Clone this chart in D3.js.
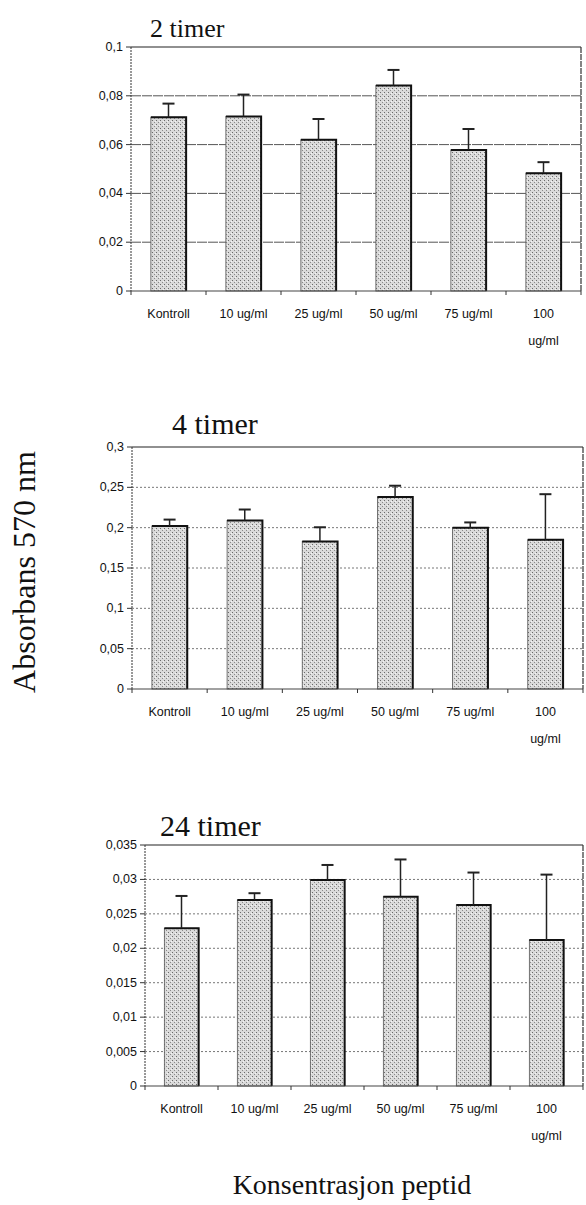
<!DOCTYPE html>
<html>
<head>
<meta charset="utf-8">
<script src="https://d3js.org/d3.v7.min.js"></script>
<style>
  body { margin: 0; background: #fff; }
  svg { display: block; }
  .tick-label { font-family: "Liberation Sans Narrow", "Liberation Sans", Arial, sans-serif; font-size: 12.5px; fill: #111; }
  .serif { font-family: "Liberation Serif", "Times New Roman", serif; fill: #111; }
</style>
</head>
<body>
<script>
// categories (x axis)
var categories = ["Kontroll", "10 ug/ml", "25 ug/ml", "50 ug/ml", "75 ug/ml", "100 ug/ml"];

// 2 timer
var mean2 = [0.0712, 0.0715, 0.0620, 0.0842, 0.0578, 0.0483];
var err2  = [0.0056, 0.0090, 0.0085, 0.0064, 0.0086, 0.0045];
var ticks2 = [0, 0.02, 0.04, 0.06, 0.08, 0.1];

// 4 timer
var mean4 = [0.202, 0.209, 0.183, 0.238, 0.200, 0.185];
var err4  = [0.008, 0.0135, 0.0175, 0.014, 0.0065, 0.0565];
var ticks4 = [0, 0.05, 0.1, 0.15, 0.2, 0.25, 0.3];

// 24 timer
var mean24 = [0.0229, 0.0270, 0.0299, 0.0275, 0.0263, 0.0212];
var err24  = [0.0047, 0.0010, 0.0022, 0.0054, 0.0047, 0.0095];
var ticks24 = [0, 0.005, 0.01, 0.015, 0.02, 0.025, 0.03, 0.035];

var w = 586, h = 1205;

var svg = d3.select("body").append("svg")
    .attr("width", w)
    .attr("height", h);

// stippled grey fill like the scanned bars
var defs = svg.append("defs");
var pat = defs.append("pattern")
    .attr("id", "stipple")
    .attr("width", 4).attr("height", 4)
    .attr("patternUnits", "userSpaceOnUse");
pat.append("rect").attr("width", 4).attr("height", 4).attr("fill", "#dadada");
pat.append("rect").attr("x", 0).attr("y", 0).attr("width", 1).attr("height", 1).attr("fill", "#6a6a6a");
pat.append("rect").attr("x", 2).attr("y", 2).attr("width", 1).attr("height", 1).attr("fill", "#8a8a8a");
pat.append("rect").attr("x", 3).attr("y", 1).attr("width", 1).attr("height", 1).attr("fill", "#f4f4f4");

var fmt = d3.formatLocale({decimal: ",", thousands: ".", grouping: [3], currency: ["", ""]}).format("~g");

function panel(cfg) {
    var g = svg.append("g");
    var x0 = cfg.left, x1 = cfg.right, y0 = cfg.top, y1 = cfg.bottom;

    var y = d3.scaleLinear()
        .domain([0, cfg.ticks[cfg.ticks.length - 1]])
        .range([y1, y0]);

    var x = d3.scaleBand()
        .domain(categories)
        .range([x0, x1])
        .paddingInner(0.53)
        .paddingOuter(0.265);

    var slot = d3.scaleLinear().domain([0, categories.length]).range([x0, x1]);

    // gridlines
    g.selectAll(".grid")
        .data(cfg.ticks.slice(1, -1))
        .enter().append("line")
        .attr("x1", x0).attr("x2", x1)
        .attr("y1", function(d) { return y(d); })
        .attr("y2", function(d) { return y(d); })
        .attr("stroke", cfg.gridColor)
        .attr("stroke-width", 1)
        .attr("stroke-dasharray", cfg.gridDash);

    // frame
    g.append("line").attr("x1", x0).attr("x2", x1).attr("y1", y0).attr("y2", y0)
        .attr("stroke", "#222").attr("stroke-width", 1.2);
    g.append("line").attr("x1", x1).attr("x2", x1).attr("y1", y0).attr("y2", y1)
        .attr("stroke", "#333").attr("stroke-width", 1.2).attr("stroke-dasharray", "6,1");
    g.append("line").attr("x1", x0).attr("x2", x0).attr("y1", y0).attr("y2", y1)
        .attr("stroke", "#333").attr("stroke-width", 1).attr("stroke-dasharray", "2,1");

    // y ticks + labels
    g.selectAll(".yt")
        .data(cfg.ticks)
        .enter().append("line")
        .attr("x1", x0 - 5).attr("x2", x0)
        .attr("y1", function(d) { return y(d); })
        .attr("y2", function(d) { return y(d); })
        .attr("stroke", "#333");
    g.selectAll(".yl")
        .data(cfg.ticks)
        .enter().append("text")
        .attr("class", "tick-label")
        .attr("x", x0 - 8)
        .attr("y", function(d) { return y(d) + 4; })
        .attr("text-anchor", "end")
        .text(function(d) { return fmt(d); });

    // bars
    g.selectAll(".bar")
        .data(cfg.mean)
        .enter().append("rect")
        .attr("x", function(d, i) { return x(categories[i]); })
        .attr("y", function(d) { return y(d); })
        .attr("width", x.bandwidth())
        .attr("height", function(d) { return y1 - y(d); })
        .attr("fill", "url(#stipple)")
        .attr("stroke", "#555")
        .attr("stroke-width", 0.8);
    // dark right edge and top
    g.selectAll(".edge")
        .data(cfg.mean)
        .enter().append("path")
        .attr("d", function(d, i) {
            var bx = x(categories[i]), bw = x.bandwidth();
            return "M" + bx + "," + y(d) + "H" + (bx + bw) + "V" + y1;
        })
        .attr("fill", "none")
        .attr("stroke", "#111")
        .attr("stroke-width", 2);

    // x axis line + slot ticks
    g.append("line").attr("x1", x0).attr("x2", x1).attr("y1", y1).attr("y2", y1)
        .attr("stroke", "#444").attr("stroke-width", 1.2);
    g.selectAll(".xt")
        .data(d3.range(categories.length + 1))
        .enter().append("line")
        .attr("x1", function(d) { return slot(d); })
        .attr("x2", function(d) { return slot(d); })
        .attr("y1", y1).attr("y2", y1 + 4)
        .attr("stroke", "#333");

    // error bars
    var eb = g.selectAll(".err")
        .data(cfg.mean)
        .enter().append("g");
    eb.append("line")
        .attr("x1", function(d, i) { return x(categories[i]) + x.bandwidth() / 2; })
        .attr("x2", function(d, i) { return x(categories[i]) + x.bandwidth() / 2; })
        .attr("y1", function(d) { return y(d); })
        .attr("y2", function(d, i) { return y(d + cfg.err[i]); })
        .attr("stroke", "#222").attr("stroke-width", 1.5);
    eb.append("line")
        .attr("x1", function(d, i) { return x(categories[i]) + x.bandwidth() / 2 - 6; })
        .attr("x2", function(d, i) { return x(categories[i]) + x.bandwidth() / 2 + 6; })
        .attr("y1", function(d, i) { return y(d + cfg.err[i]); })
        .attr("y2", function(d, i) { return y(d + cfg.err[i]); })
        .attr("stroke", "#222").attr("stroke-width", 2);

    // category labels (last one wraps)
    g.selectAll(".xl")
        .data(categories)
        .enter().append("text")
        .attr("class", "tick-label")
        .attr("text-anchor", "middle")
        .attr("x", function(d) { return x(d) + x.bandwidth() / 2; })
        .attr("y", y1 + 27)
        .each(function(d) {
            var t = d3.select(this);
            if (d === "100 ug/ml") {
                t.append("tspan").attr("x", t.attr("x")).text("100");
                t.append("tspan").attr("x", t.attr("x")).attr("dy", 27).text("ug/ml");
            } else {
                t.text(d);
            }
        });

    // panel title
    g.append("text")
        .attr("class", "serif")
        .attr("x", cfg.titleX)
        .attr("y", cfg.titleY)
        .attr("font-size", cfg.titleSize)
        .text(cfg.title);
}

panel({ title: "2 timer", titleX: 150, titleY: 37, titleSize: 26, left: 131, right: 581, top: 47, bottom: 291,
        mean: mean2, err: err2, ticks: ticks2, gridColor: "#555", gridDash: "10,1" });
panel({ title: "4 timer", titleX: 172, titleY: 434, titleSize: 30, left: 132, right: 583, top: 447, bottom: 689,
        mean: mean4, err: err4, ticks: ticks4, gridColor: "#777", gridDash: "2,2" });
panel({ title: "24 timer", titleX: 160, titleY: 836, titleSize: 30, left: 145, right: 583, top: 845, bottom: 1086,
        mean: mean24, err: err24, ticks: ticks24, gridColor: "#777", gridDash: "2,2" });

// axis titles
svg.append("text")
    .attr("class", "serif")
    .attr("font-size", 32)
    .attr("text-anchor", "middle")
    .attr("transform", "translate(35,572) rotate(-90)")
    .text("Absorbans 570 nm");

svg.append("text")
    .attr("class", "serif")
    .attr("font-size", 28)
    .attr("text-anchor", "middle")
    .attr("x", 352)
    .attr("y", 1194)
    .text("Konsentrasjon peptid");
</script>
</body>
</html>
